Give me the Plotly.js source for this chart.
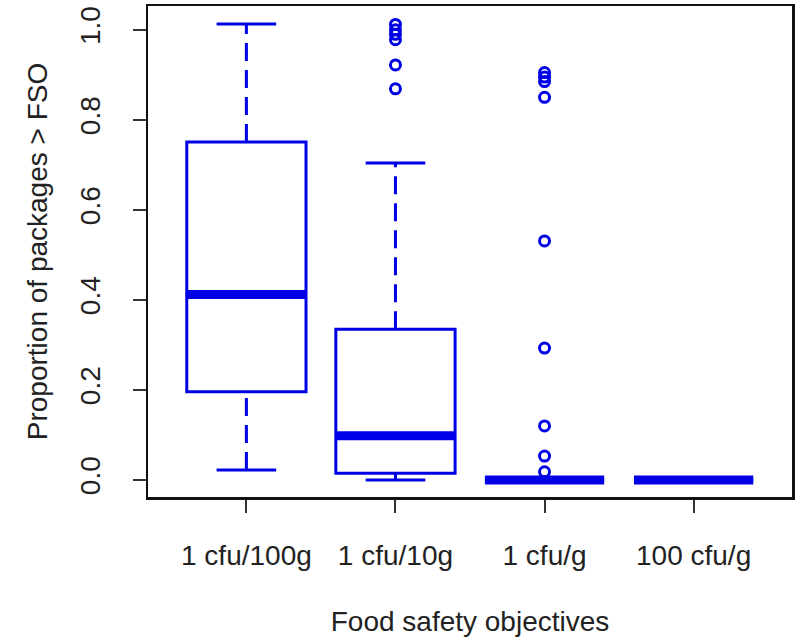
<!DOCTYPE html>
<html>
<head>
<meta charset="utf-8">
<script src="https://cdn.plot.ly/plotly-3.0.1.min.js"></script>
<style>html,body{margin:0;padding:0;background:#fff;}#chart{width:796px;height:642px;}</style>
</head>
<body>
<div id="chart"></div>
<script>
var categories = ['1 cfu/100g', '1 cfu/10g', '1 cfu/g', '100 cfu/g'];
var positions = [1, 2, 3, 4];
var q1 = [0.196, 0.015, 0, 0];
var medians = [0.412, 0.098, 0, 0];
var q3 = [0.751, 0.335, 0, 0];
var lowerWhisker = [0.022, 0.0, 0, 0];
var upperWhisker = [1.013, 0.704, 0, 0];
var outliers2 = [1.012, 1.0, 0.99, 0.978, 0.922, 0.869];
var outliers3 = [0.905, 0.895, 0.885, 0.85, 0.531, 0.293, 0.12, 0.053, 0.018];
var yTicks = [0, 0.2, 0.4, 0.6, 0.8, 1.0];

var BLUE = '#0000e6';
var FONT = 'Liberation Sans, Arial, sans-serif';
var halfBox = 0.4, halfCap = 0.2;

function segs(fn) {
  var xs = [], ys = [];
  positions.forEach(function (p, i) {
    var s = fn(p, i);
    if (!s) return;
    xs.push(s[0], s[1], null);
    ys.push(s[2], s[3], null);
  });
  return {x: xs, y: ys};
}

var traces = [];
traces.push({
  type: 'box', x: positions, q1: q1, median: medians, q3: q3,
  lowerfence: q1, upperfence: q3, width: 0.8, whiskerwidth: 0,
  boxpoints: false, fillcolor: 'rgba(0,0,0,0)',
  line: {color: BLUE, width: 3}, hoverinfo: 'skip', showlegend: false
});
var wu = segs(function (p, i) { return upperWhisker[i] > q3[i] ? [p, p, q3[i], upperWhisker[i]] : null; });
var wl = segs(function (p, i) { return lowerWhisker[i] < q1[i] ? [p, p, lowerWhisker[i], q1[i]] : null; });
traces.push({type: 'scatter', mode: 'lines', x: wu.x.concat(wl.x), y: wu.y.concat(wl.y),
  line: {color: BLUE, width: 3, dash: '18px,9px'}, showlegend: false, hoverinfo: 'skip'});
var cu = segs(function (p, i) { return [p - halfCap, p + halfCap, upperWhisker[i], upperWhisker[i]]; });
var cl = segs(function (p, i) { return [p - halfCap, p + halfCap, lowerWhisker[i], lowerWhisker[i]]; });
traces.push({type: 'scatter', mode: 'lines', x: cu.x.concat(cl.x), y: cu.y.concat(cl.y),
  line: {color: BLUE, width: 3}, showlegend: false, hoverinfo: 'skip'});
var md = segs(function (p, i) { return [p - halfBox, p + halfBox, medians[i], medians[i]]; });
traces.push({type: 'scatter', mode: 'lines', x: md.x, y: md.y,
  line: {color: BLUE, width: 9}, showlegend: false, hoverinfo: 'skip'});
traces.push({type: 'scatter', mode: 'markers',
  x: outliers2.map(function () { return positions[1]; }).concat(outliers3.map(function () { return positions[2]; })),
  y: outliers2.concat(outliers3),
  marker: {symbol: 'circle-open', size: 10, color: BLUE, line: {width: 3, color: BLUE}},
  showlegend: false, hoverinfo: 'y'});

var layout = {
  width: 796, height: 642,
  margin: {l: 148, r: 4, t: 6, b: 145},
  paper_bgcolor: '#fff', plot_bgcolor: '#fff',
  showlegend: false,
  font: {family: FONT, size: 28, color: '#222'},
  xaxis: {
    range: [0.34, 4.66], tickmode: 'array', tickvals: positions, ticktext: categories,
    ticks: 'outside', ticklen: 13, tickwidth: 2, tickcolor: '#333',
    showgrid: false, zeroline: false, showline: true, mirror: true,
    linecolor: '#111', linewidth: 2.5, automargin: false,
    tickfont: {family: FONT, size: 28, color: '#222'}, ticklabelstandoff: 19,
    title: {text: 'Food safety objectives', font: {family: FONT, size: 28, color: '#222'}, standoff: 42}
  },
  yaxis: {
    range: [-0.038, 1.053], tickmode: 'array', tickvals: yTicks,
    ticktext: yTicks.map(function (v) { return v.toFixed(1); }),
    ticks: 'outside', ticklen: 13, tickwidth: 2, tickcolor: '#333', tickangle: -90,
    showgrid: false, zeroline: false, showline: true, mirror: true,
    linecolor: '#111', linewidth: 2.5, automargin: false,
    tickfont: {family: FONT, size: 28, color: '#222'}, ticklabelstandoff: 21,
    title: {text: 'Proportion of packages > FSO', font: {family: FONT, size: 28, color: '#222'}, standoff: 20}
  }
};

Plotly.newPlot('chart', traces, layout, {displayModeBar: false, staticPlot: true});
</script>
</body>
</html>
